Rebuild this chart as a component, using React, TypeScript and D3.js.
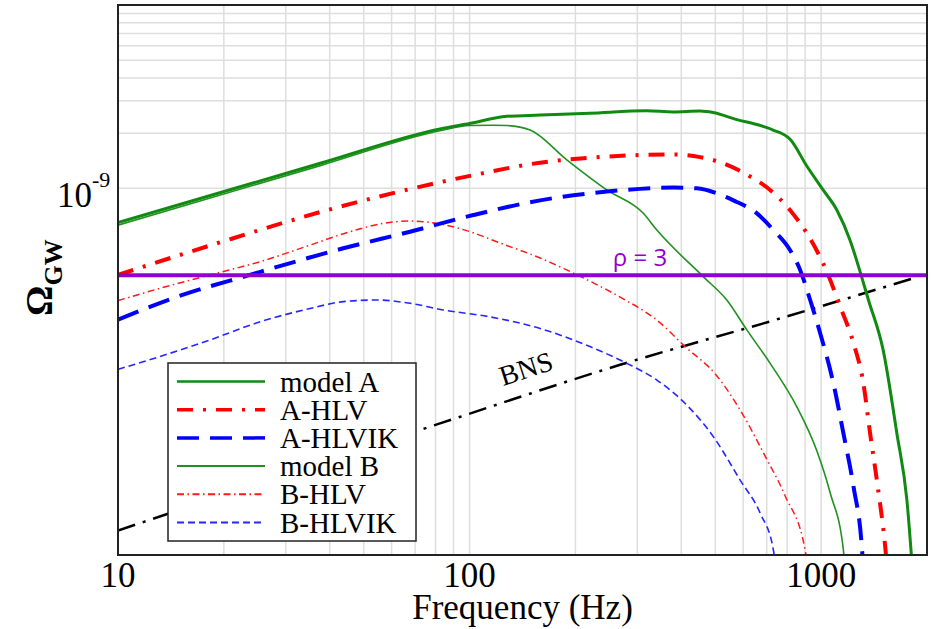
import React from 'react';
import * as d3 from 'd3';

// Values: [frequency (Hz), Omega_GW]
const modelA: [number, number][] = [
  [10, 6.5e-10], [37.6, 1.37e-9], [82.4, 2.11e-9], [100, 2.26e-9], [127.6, 2.47e-9],
  [158.7, 2.51e-9], [220, 2.57e-9], [319, 2.65e-9], [379, 2.61e-9], [452.7, 2.64e-9],
  [493, 2.59e-9], [575.8, 2.37e-9], [656.5, 2.23e-9], [730, 2.08e-9], [816, 1.85e-9],
  [911, 1.32e-9], [1013, 9.8e-10], [1109, 7.6e-10], [1209, 5.2e-10], [1291, 3.5e-10],
  [1363, 2.46e-10], [1501, 1.31e-10], [1642, 4.6e-11], [1753, 2.0e-11], [1830, 7e-12],
];
const modelAHLV: [number, number][] = [
  [10, 3.37e-10], [19.1, 5.01e-10], [40.1, 7.68e-10], [67.7, 9.91e-10], [102.5, 1.18e-9],
  [158.7, 1.38e-9], [245.6, 1.49e-9], [380, 1.53e-9], [452.7, 1.48e-9], [527, 1.37e-9],
  [628, 1.16e-9], [716, 9.8e-10], [816, 7.6e-10], [911, 5.68e-10], [1038, 3.51e-10],
  [1133, 2.26e-10], [1236, 1.43e-10], [1319, 8.6e-11], [1378, 4.6e-11], [1440, 2.56e-11],
  [1521, 1.11e-11], [1545, 8e-12],
];
const modelAHLVIK: [number, number][] = [
  [10, 1.92e-10], [14.69, 2.56e-10], [23.7, 3.37e-10], [43.75, 4.71e-10], [67.7, 5.8e-10],
  [102.5, 7.15e-10], [158.7, 8.6e-10], [245.6, 9.6e-10], [380, 1.01e-9], [443, 1.0e-9],
  [505, 9.4e-10], [563, 8.6e-10], [656.5, 7.3e-10], [731.6, 5.92e-10], [816, 4.6e-10],
  [871.6, 3.58e-10], [930.5, 2.46e-10], [993.6, 1.62e-10], [1084, 8.6e-11], [1157, 4.6e-11],
  [1236, 2.36e-11], [1305, 1.11e-11], [1320, 8e-12],
];
const modelB: [number, number][] = [
  [10, 6.3e-10], [37.6, 1.33e-9], [82.4, 2.06e-9], [100, 2.2e-9], [116.7, 2.21e-9],
  [127.6, 2.2e-9], [148.6, 2.08e-9], [189, 1.43e-9], [245.6, 9.8e-10], [311.6, 7.33e-10],
  [341, 5.92e-10], [462.6, 3.29e-10], [539, 2.46e-10], [614.5, 1.69e-10], [716, 1.11e-10],
  [852.8, 6.43e-11], [972, 3.7e-11], [1061, 2.18e-11], [1157, 1.06e-11], [1175, 8e-12],
];
const modelBHLV: [number, number][] = [
  [10, 2.44e-10], [13.17, 2.85e-10], [18.27, 3.37e-10], [25.35, 3.98e-10], [35.18, 4.9e-10],
  [45.7, 5.8e-10], [56.9, 6.44e-10], [67.7, 6.63e-10], [80.7, 6.44e-10], [100.3, 5.8e-10],
  [122.1, 5.03e-10], [158.7, 4.17e-10], [202.2, 3.37e-10], [268.1, 2.55e-10], [341, 1.91e-10],
  [410.3, 1.37e-10], [502.5, 9.6e-11], [599.8, 5.8e-11], [692.9, 3.46e-11], [790, 2.1e-11],
  [900.6, 1.06e-11], [918, 8.5e-12],
];
const modelBHLVIK: [number, number][] = [
  [10, 1.03e-10], [13.17, 1.21e-10], [18.27, 1.49e-10], [25.35, 1.87e-10], [35.18, 2.21e-10],
  [43.75, 2.41e-10], [54.45, 2.46e-10], [67.7, 2.36e-10], [84.25, 2.17e-10], [114.4, 1.99e-10],
  [158.7, 1.72e-10], [220, 1.37e-10], [280, 1.11e-10], [341, 9.0e-11], [414.8, 6.57e-11],
  [494, 4.41e-11], [588.3, 2.56e-11], [670.8, 1.69e-11], [731.6, 1.06e-11], [744.7, 8.5e-12],
];
const bns: [number, number][] = [
  [10, 1.36e-11], [82.4, 5.22e-11], [268, 1.09e-10], [764, 1.95e-10], [1888, 3.29e-10],
];
const rhoLevel = 3.36e-10;

const xTicks = [10, 100, 1000];
const yTicks = [1e-9];

const series = [
  { name: 'model A', data: modelA, color: '#118a11', width: 3, dash: null },
  { name: 'A-HLV', data: modelAHLV, color: '#ff0000', width: 4, dash: '16,10,3,10' },
  { name: 'A-HLVIK', data: modelAHLVIK, color: '#0000ff', width: 4, dash: '22,11' },
  { name: 'model B', data: modelB, color: '#1f921f', width: 1.6, dash: null },
  { name: 'B-HLV', data: modelBHLV, color: '#ff1a1a', width: 1.5, dash: '7,3.5,1.5,3.5' },
  { name: 'B-HLVIK', data: modelBHLVIK, color: '#2626ff', width: 1.6, dash: '7,4' },
];

const SERIF = 'Liberation Serif';

export default function App() {
  const width = 940;
  const height = 629;
  const left = 118, right = 927, top = 5, bottom = 555;

  const x = d3.scaleLog().domain([10, 2000]).range([left, right]);
  const y = d3.scaleLog().domain([1e-11, 1e-8]).range([bottom, top]);

  const line = d3.line<[number, number]>()
    .x(d => x(d[0]))
    .y(d => y(d[1]))
    .curve(d3.curveMonotoneX);

  // vertical grid at every 1..9 multiple, horizontal only in the top decade
  const xGrid = x.ticks().filter(v => v > 10 && v < 2000);
  const yGrid = y.ticks().filter(v => v >= 1e-9 && v < 1e-8);

  // legend geometry
  const lgX = 168, lgY = 363, lgW = 248, lgH = 178;
  const rowH = 28.2;

  return (
    <svg width={width} height={height} fontFamily={SERIF}
      style={{ position: 'absolute', left: 0, top: 0, background: '#fff' }}>
      <defs>
        <clipPath id="plot-clip">
          <rect x={left} y={top} width={right - left} height={bottom - top} />
        </clipPath>
      </defs>
      <rect x={0} y={0} width={width} height={height} fill="#fff" />

      {/* grid */}
      <g stroke="#dedede" strokeWidth={1.5}>
        {xGrid.map(v => (
          <line key={'gx' + v} x1={x(v)} x2={x(v)} y1={top} y2={bottom} />
        ))}
        {yGrid.map(v => (
          <line key={'gy' + v} x1={left} x2={right} y1={y(v)} y2={y(v)} />
        ))}
      </g>

      <g clipPath="url(#plot-clip)" fill="none">
        <path d={line(bns) || ''} stroke="#000" strokeWidth={2.5} strokeDasharray="18,8,3,8" />
        {series.slice().reverse().map(s => (
          <path key={s.name} d={line(s.data) || ''} stroke={s.color} strokeWidth={s.width}
            strokeDasharray={s.dash || undefined} />
        ))}
        <line x1={left} x2={right} y1={y(rhoLevel)} y2={y(rhoLevel)} stroke="#9000d0" strokeWidth={4} />
      </g>

      {/* annotations */}
      <text x={640} y={266} textAnchor="middle" fill="#9000d0" fontSize={24}
        fontFamily="Open Sans" style={{ whiteSpace: 'pre' }}>ρ = 3</text>
      <text transform="translate(503,386) rotate(-18)" fontSize={28} fill="#000">BNS</text>

      {/* frame */}
      <rect x={left} y={top} width={right - left} height={bottom - top} fill="none" stroke="#222" strokeWidth={2} />

      {/* x tick labels */}
      {xTicks.map(v => (
        <text key={'xt' + v} x={x(v)} y={587} textAnchor="middle" fontSize={35} fill="#000">
          {v}
        </text>
      ))}
      <text x={(left + right) / 2} y={619} textAnchor="middle" fontSize={35} fill="#000">
        Frequency (Hz)
      </text>

      {/* y tick labels */}
      {yTicks.map(v => (
        <g key={'yt' + v}>
          <text x={92} y={y(v) + 19} textAnchor="end" fontSize={35} fill="#000">10</text>
          <text x={92} y={y(v) - 1} fontSize={22} fill="#000">
            {Math.round(Math.log10(v))}
          </text>
        </g>
      ))}
      <text transform="translate(52,316) rotate(-90)" fontWeight="bold" fill="#000">
        <tspan fontSize={38}>Ω</tspan>
        <tspan fontSize={26} dy={10}>GW</tspan>
      </text>

      {/* legend */}
      <rect x={lgX} y={lgY} width={lgW} height={lgH} fill="#fff" stroke="#222" strokeWidth={1.5} />
      {series.map((s, i) => {
        const ry = lgY + 18.5 + i * rowH;
        return (
          <g key={'lg' + s.name}>
            <line x1={177} x2={265} y1={ry} y2={ry} stroke={s.color}
              strokeWidth={s.width < 2 ? 2 : s.width - 0.5} strokeDasharray={s.dash || undefined} />
            <text x={280} y={ry + 10} fontSize={29} fill="#000">{s.name}</text>
          </g>
        );
      })}
    </svg>
  );
}
